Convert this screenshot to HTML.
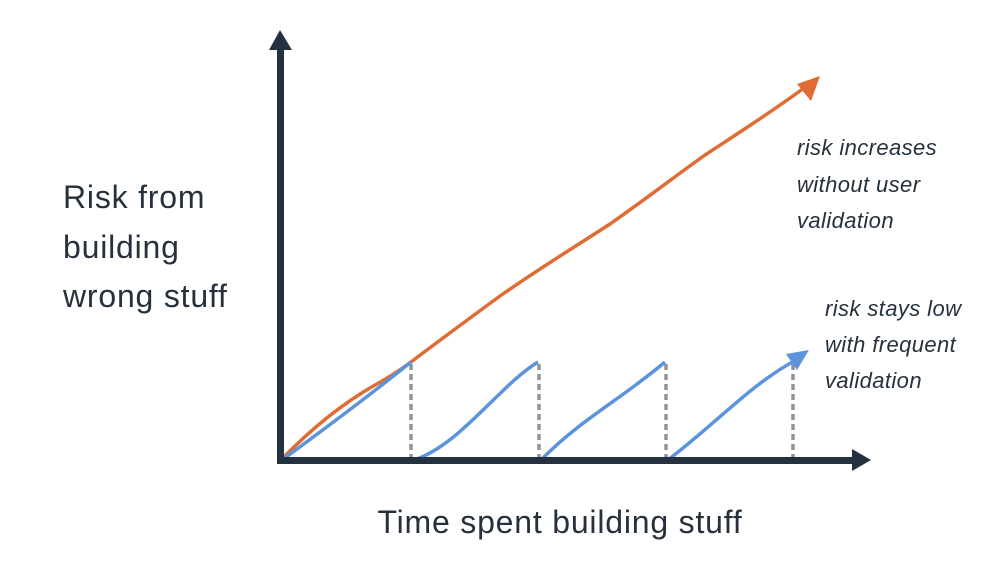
<!DOCTYPE html>
<html><head><style>
html,body{margin:0;padding:0;background:#fff;}
svg{display:block;}
text{font-family:"Liberation Sans",sans-serif;fill:#26313d;}
.big{font-size:32px;letter-spacing:0.8px;}
.it{font-size:22px;font-style:italic;letter-spacing:0.4px;}
</style></head><body>
<svg width="1000" height="564" viewBox="0 0 1000 564">
<g stroke="#939393" stroke-width="3.5" stroke-dasharray="6,4">
<line x1="411" y1="364" x2="411" y2="458"/>
<line x1="539" y1="364" x2="539" y2="458"/>
<line x1="666" y1="364" x2="666" y2="458"/>
<line x1="793" y1="364" x2="793" y2="458"/>
</g>
<path d="M282,459 C310,430 340,405 375,385 C390,377 400,370 411,362 C440,340 470,318 500,296 C540,268 570,250 610,224 C650,196 670,180 705,155 C740,132 770,113 804,88" fill="none" stroke="#e06c35" stroke-width="3.5"/>
<polygon points="820,76 797,84 811,101" fill="#e06c35"/>
<g fill="none" stroke="#5b93dd" stroke-width="3.5">
<path d="M282,460 C330,425 370,395 411,362"/>
<path d="M414,460 C460,445 500,385 538,362"/>
<path d="M541,460 C580,420 620,400 665,362"/>
<path d="M668,460 C720,420 750,385 796,360"/>
</g>
<polygon points="809,350 786,354 797,370" fill="#5b93dd"/>
<g fill="#24323f">
<rect x="277" y="45" width="7" height="418"/>
<polygon points="280,30 269,50 292,50"/>
<rect x="277" y="457" width="580" height="7"/>
<polygon points="871,460 852,449 852,471"/>
</g>
<text class="big" x="63" y="208">Risk from</text>
<text class="big" x="63" y="258">building</text>
<text class="big" x="63" y="307">wrong stuff</text>
<text class="big" x="560" y="533" text-anchor="middle">Time spent building stuff</text>
<text class="it" x="797" y="155">risk increases</text>
<text class="it" x="797" y="192">without user</text>
<text class="it" x="797" y="228">validation</text>
<text class="it" x="825" y="316">risk stays low</text>
<text class="it" x="825" y="352">with frequent</text>
<text class="it" x="825" y="388">validation</text>
</svg>
</body></html>
